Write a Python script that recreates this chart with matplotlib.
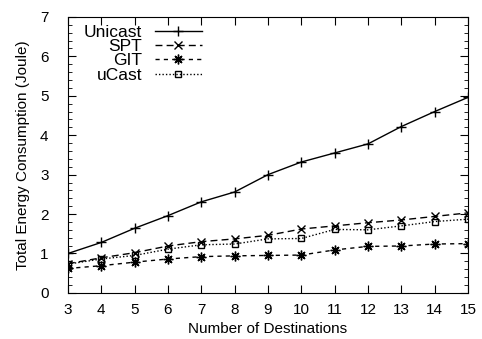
import numpy as np
import matplotlib.pyplot as plt
from matplotlib.ticker import MultipleLocator

plt.rcParams['font.family'] = ['Liberation Sans', 'DejaVu Sans']
plt.rcParams.update({'font.size': 11})

destinations = np.arange(3, 16)
unicast = [1.0, 1.28, 1.64, 1.96, 2.31, 2.56, 3.0, 3.32, 3.55, 3.78, 4.22, 4.6, 4.96]
spt = [0.74, 0.89, 1.02, 1.19, 1.3, 1.37, 1.46, 1.62, 1.7, 1.78, 1.85, 1.94, 2.03]
git = [0.62, 0.69, 0.78, 0.86, 0.92, 0.94, 0.95, 0.96, 1.09, 1.18, 1.19, 1.24, 1.25]
ucast = [0.73, 0.86, 0.95, 1.11, 1.22, 1.24, 1.37, 1.38, 1.61, 1.6, 1.7, 1.81, 1.87]

fig, ax = plt.subplots(figsize=(4.82, 3.39), dpi=100)
fig.subplots_adjust(left=0.141, right=0.971, top=0.95, bottom=0.136)

ax.plot(destinations, unicast, color='k', lw=1, ls='-', marker='+', ms=7, mew=1, label='Unicast')
ax.plot(destinations, spt, color='k', lw=1, ls=(0, (5, 3)), marker='x', ms=6, mew=1, label='SPT')
ax.plot(destinations, git, color='k', lw=1, ls=(0, (3, 3)), marker=(8, 2, 0), ms=7, mew=1, label='GIT')
ax.plot(destinations, ucast, color='k', lw=1, ls=(0, (1, 1.5)), marker='s', ms=5, mew=1,
        mfc='none', label='uCast')

ax.set_xlim(3, 15)
ax.set_ylim(0, 7)
ax.set_xticks(destinations)
ax.yaxis.set_minor_locator(MultipleLocator(0.2))
ax.tick_params(which='both', direction='in', top=True, right=True)
ax.tick_params(which='major', length=6)
ax.tick_params(which='minor', length=3)
ax.tick_params(axis='y', pad=14)
ax.tick_params(axis='x', pad=7)
ax.set_xlabel('Number of Destinations', labelpad=4)
ax.set_ylabel('Total Energy Consumption (Joule)', labelpad=7)

ax.legend(loc='upper left', frameon=False, markerfirst=False, handlelength=2.7,
          fontsize=12.5, labelspacing=-0.05, borderaxespad=0.15, handletextpad=0.75,
          borderpad=0.3, bbox_to_anchor=(0.02, 1.0))

fig.savefig('out.png')
